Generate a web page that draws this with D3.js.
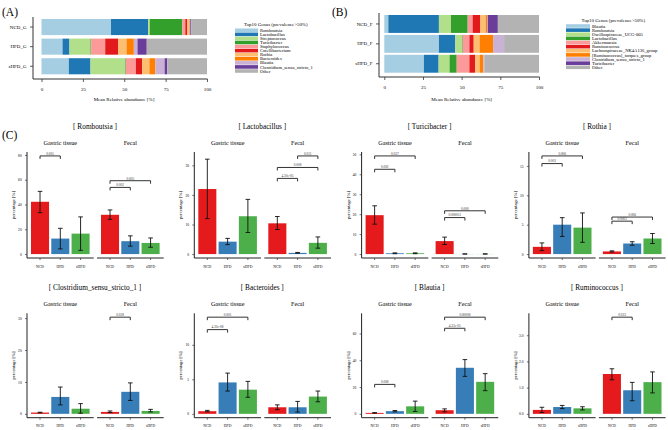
<!DOCTYPE html>
<html><head><meta charset="utf-8">
<script src="https://cdn.jsdelivr.net/npm/d3@7"></script>
<style>body{margin:0;background:#fff}svg{display:block;font-family:"Liberation Serif","Times New Roman",serif}</style>
</head><body><svg width="668" height="430"></svg>
<script>
// ---------- DATA ----------
const paired = ["#A6CEE3","#1F78B4","#B2DF8A","#33A02C","#FB9A99","#E31A1C","#FDBF6F","#FF7F00","#CAB2D6","#6A3D9A","#B3B3B3"];
const groupsA = ["NCD_G","HFD_G","sHFD_G"];
const genusA = ["Romboutsia","Lactobacillus","Streptococcus","Turicibacter","Staphylococcus","Catellibacterium","Rothia","Bacteroides","Blautia","Clostridium_sensu_stricto_1","Other"];
const ncdG  = [42.0,22.4,1.0,19.7,1.8,1.2,1.0,0.4,0.4,0.5,9.6];
const hfdG  = [12.7,4.2,12.7,0.4,8.5,7.9,5.0,4.4,2.2,5.6,36.4];
const shfdG = [16.5,13.1,20.9,0.4,6.1,3.8,4.4,3.6,5.6,1.6,24.0];

const groupsB = ["NCD_F","HFD_F","sHFD_F"];
const genusB = ["Blautia","Romboutsia","Oscillospiraceae_UCG-005","Lactobacillus","Akkermansia","Ruminococcus","Lachnospiraceae_NK4A136_group","[Ruminococcus]_torques_group","Clostridium_sensu_stricto_1","Turicibacter","Other"];
const ncdF  = [2.6,32.7,7.8,10.8,3.2,5.0,3.4,0.9,0.5,6.5,26.6];
const hfdF  = [35.3,10.6,4.4,0.4,4.3,2.8,3.8,8.7,7.1,0.05,22.55];
const shfdF = [25.6,9.5,7.1,4.6,8.2,3.8,2.8,2.4,0.6,0.05,35.35];

const groupsC = ["NCD","HFD","sHFD"];
const groupColors = ["#E41A1C","#377EB8","#4DAF4A"];
const facetsC = ["Gastric tissue","Fecal"];
const genusC = ["Romboutsia","Lactobacillus","Turicibacter","Rothia","Clostridium_sensu_stricto_1","Bacteroides","Blautia","Ruminococcus"];
const gastricMean = [[42.2,12.5,16.5],[22.0,4.2,12.8],[19.5,0.4,0.4],[1.23,5.0,4.5],[0.4,5.3,1.6],[0.38,4.55,3.5],[0.7,2.0,5.6],[0.15,0.26,0.21]];
const gastricLo   = [[33.4,4.2,3.0],[12.0,3.2,7.3],[15.0,0.2,0.2],[0.6,3.0,2.0],[0.3,2.8,0.2],[0.3,3.3,2.4],[0.5,1.5,1.8],[0.05,0.2,0.15]];
const gastricHi   = [[50.6,20.8,30.0],[32.1,5.3,18.5],[24.2,0.6,0.6],[1.9,6.2,7.0],[0.5,8.4,3.2],[0.5,5.9,4.7],[0.9,2.5,9.5],[0.25,0.32,0.27]];
const fecalMean   = [[31.7,10.4,9.0],[10.4,0.4,3.8],[6.5,0.05,0.05],[0.45,1.8,2.65],[0.6,6.9,0.9],[0.95,0.95,2.5],[2.7,34.4,23.9],[1.52,0.9,1.21]];
const fecalLo     = [[28.0,6.4,5.5],[8.3,0.3,2.0],[4.8,0.03,0.03],[0.35,1.5,1.8],[0.4,4.2,0.6],[0.6,0.25,1.75],[1.5,28.0,17.3],[1.3,0.5,0.8]];
const fecalHi     = [[35.6,14.7,13.0],[12.7,0.55,5.8],[8.5,0.08,0.08],[0.55,2.1,3.5],[0.9,9.7,1.4],[1.3,1.8,3.3],[3.7,40.5,30.0],[1.72,1.2,1.6]];
const yTicksC = [[0,20,40,60,80],[0,10,20,30],[0,10,20,30,40,50],[0,5,10,15],[0,10,20,30],[0,5,10],[0,20,40,60],[0,1,2,3]];
// significance brackets: genus index, facet index, from group, to group, height (data units), p label
const bracketGenus = [0,0,0, 1,1,1, 2,2,2,2, 3,3,3,3, 4, 5,5, 6,6,6, 7];
const bracketFacet = [0,1,1, 1,1,1, 0,0,1,1, 0,0,1,1, 1, 0,0, 0,1,1, 1];
const bracketFrom  = ["NCD","NCD","NCD", "NCD","NCD","HFD", "NCD","NCD","NCD","NCD", "NCD","NCD","NCD","NCD", "NCD", "NCD","NCD", "NCD","NCD","NCD", "NCD"];
const bracketTo    = ["HFD","HFD","sHFD", "HFD","sHFD","sHFD", "HFD","sHFD","HFD","sHFD", "HFD","sHFD","HFD","sHFD", "HFD", "HFD","sHFD", "HFD","HFD","sHFD", "HFD"];
const bracketY     = [79.2,53.8,59.2, 25.6,29.3,33.2, 42.5,49.2,18.3,21.7, 15.4,16.7,5.6,6.3, 30.3, 12.2,14.0, 22.0,63.9,72.2, 3.69];
const bracketP     = ["0.005","0.002","0.005", "4.30e-05","0.008","0.011", "0.002","0.037","0.000051","0.000", "0.003","0.006","0.0003","0.006", "0.028", "4.30e-08","0.001", "0.008","4.33e-05","0.00008", "0.023"];

// ---------- DRAW ----------
const svg = d3.select("svg");
svg.append("rect").attr("width",668).attr("height",430).attr("fill","#fff");

function stacked(cfg){
  const g = svg.append("g");
  const x = d3.scaleLinear().domain([0,100]).range(cfg.xr);
  const y = d3.scaleBand().domain(cfg.groups).range(cfg.yr).paddingInner(cfg.pad).paddingOuter(0);
  cfg.values.forEach((vals,gi)=>{
    let acc = 0;
    const segs = vals.map((v,k)=>{const s={k,x0:acc,x1:acc+v}; acc+=v; return s;});
    g.selectAll(null).data(segs).join("rect")
      .attr("x",d=>x(d.x0)).attr("width",d=>Math.max(0,x(d.x1)-x(d.x0)))
      .attr("y",y(cfg.groups[gi])).attr("height",y.bandwidth())
      .attr("fill",d=>paired[d.k]);
  });
  // axes
  const ax = g.append("g").attr("transform",`translate(${cfg.axX},0)`)
    .call(d3.axisLeft(y).tickSize(3).tickSizeOuter(0));
  ax.select(".domain").remove();
  ax.selectAll("text").attr("font-size",5).attr("font-family","Liberation Serif").attr("dx",-0.5);
  ax.selectAll("line").attr("stroke","#333").attr("stroke-width",0.8);
  g.append("line").attr("x1",cfg.axX).attr("x2",cfg.axX).attr("y1",cfg.axTop).attr("y2",cfg.axY).attr("stroke","#333").attr("stroke-width",1);
  const bx = g.append("g").attr("transform",`translate(0,${cfg.axY})`)
    .call(d3.axisBottom(x).tickValues([0,25,50,75,100]).tickSize(3).tickSizeOuter(0));
  bx.select(".domain").remove();
  bx.selectAll("text").attr("font-size",5).attr("font-family","Liberation Serif").attr("dy","1.1em");
  bx.selectAll("line").attr("stroke","#333").attr("stroke-width",0.8);
  g.append("line").attr("x1",cfg.axX).attr("x2",cfg.xr[1]+0.5).attr("y1",cfg.axY).attr("y2",cfg.axY).attr("stroke","#333").attr("stroke-width",1);
  g.append("text").attr("x",cfg.titleX).attr("y",cfg.titleY).attr("text-anchor","middle").attr("font-size",5).text("Mean Relative abundance [%]");
  // legend
  const lg = g.append("g");
  lg.append("text").attr("x",cfg.legTitleX).attr("y",cfg.legTitleY).attr("font-size",4.9).text("Top10 Genus (prevalence>50%)");
  cfg.genus.forEach((name,k)=>{
    const yy = cfg.legY0 + k*cfg.legStep;
    lg.append("rect").attr("x",cfg.legX).attr("y",yy-1.8).attr("width",cfg.legW).attr("height",3.6).attr("fill",paired[k]);
    lg.append("text").attr("x",cfg.legX+cfg.legW+2).attr("y",yy).attr("dy","0.35em").attr("font-size",4.6).text(name);
  });
  svg.append("text").attr("x",cfg.tagX).attr("y",cfg.tagY).attr("font-size",11.5).text(cfg.tag);
}

stacked({groups:groupsA, values:[ncdG,hfdG,shfdG], genus:genusA, xr:[41.5,207], yr:[19,74.3], pad:0.18,
  axX:33, axTop:17, axY:79, titleX:124, titleY:101, legTitleX:244, legTitleY:26, legX:235, legW:23, legY0:30.3, legStep:4.07,
  tag:"(A)", tagX:2, tagY:16});
stacked({groups:groupsB, values:[ncdF,hfdF,shfdF], genus:genusB, xr:[384.3,539], yr:[15,72.7], pad:0.1,
  axX:379, axTop:13, axY:77, titleX:461.7, titleY:101, legTitleX:581.5, legTitleY:22, legX:566, legW:24, legY0:26, legStep:4.13,
  tag:"(B)", tagX:332, tagY:16});

svg.append("text").attr("x",2).attr("y",139).attr("font-size",11.5).text("(C)");

genusC.forEach((name,i)=>{
  const c = i%4, r = Math.floor(i/4);
  const ax = 27 + c*167.3;
  const topY = r ? 313.3 : 152, botY = r ? 417.7 : 258;
  const g = svg.append("g");
  const bIdx = bracketGenus.map((gg,k)=>gg===i?k:-1).filter(k=>k>=0);
  const M = d3.max([...gastricHi[i],...fecalHi[i],...bIdx.map(k=>bracketY[k])]);
  const y = d3.scaleLinear().domain([-0.04*M,1.04*M]).range([botY,topY]);
  // title
  g.append("text").attr("x",ax+68).attr("y",r?287.5:126).attr("dy","0.35em").attr("text-anchor","middle").attr("font-size",7.3).text(`[ ${name} ]`);
  // y axis
  g.append("line").attr("x1",ax).attr("x2",ax).attr("y1",topY).attr("y2",botY).attr("stroke","#222").attr("stroke-width",1);
  const ya = g.append("g").attr("transform",`translate(${ax},0)`).call(d3.axisLeft(y).tickValues(yTicksC[i]).tickSize(2).tickSizeOuter(0));
  ya.select(".domain").remove();
  ya.selectAll("text").attr("font-size",3.6).attr("font-family","Liberation Serif").attr("dx",-0.3);
  ya.selectAll("line").attr("stroke","#333").attr("stroke-width",0.7);
  g.append("text").attr("transform",`translate(${ax-12},${(topY+botY)/2}) rotate(-90)`).attr("text-anchor","middle").attr("font-size",4.6).text("percentage [%]");
  const means=[gastricMean[i],fecalMean[i]], los=[gastricLo[i],fecalLo[i]], his=[gastricHi[i],fecalHi[i]];
  facetsC.forEach((fname,f)=>{
    const x0 = ax + f*70, w = 66.7;
    const x = d3.scaleBand().domain(groupsC).range([x0+4,x0+62.6]).paddingInner(0.11).paddingOuter(0);
    g.append("text").attr("x",x0+w/2).attr("y",r?303.5:143).attr("dy","0.35em").attr("text-anchor","middle").attr("font-size",6.2).text(fname);
    // bars
    g.selectAll(null).data(groupsC).join("rect")
      .attr("x",d=>x(d)).attr("width",x.bandwidth())
      .attr("y",(d,k)=>y(means[f][k])).attr("height",(d,k)=>Math.max(0,y(0)-y(means[f][k])))
      .attr("fill",(d,k)=>groupColors[k]);
    // error bars
    groupsC.forEach((gname,k)=>{
      const cx = x(gname)+x.bandwidth()/2;
      const eg = g.append("g").attr("stroke","#111").attr("stroke-width",0.9);
      eg.append("line").attr("x1",cx).attr("x2",cx).attr("y1",y(los[f][k])).attr("y2",y(his[f][k]));
      eg.append("line").attr("x1",cx-2.3).attr("x2",cx+2.3).attr("y1",y(los[f][k])).attr("y2",y(los[f][k]));
      eg.append("line").attr("x1",cx-2.3).attr("x2",cx+2.3).attr("y1",y(his[f][k])).attr("y2",y(his[f][k]));
    });
    // x axis
    g.append("line").attr("x1",x0).attr("x2",x0+w).attr("y1",botY).attr("y2",botY).attr("stroke","#222").attr("stroke-width",1);
    const xa = g.append("g").attr("transform",`translate(0,${botY})`).call(d3.axisBottom(x).tickSize(2).tickSizeOuter(0));
    xa.select(".domain").remove();
    xa.selectAll("text").attr("font-size",3.8).attr("font-family","Liberation Serif").attr("dy","1.2em");
    xa.selectAll("line").attr("stroke","#333").attr("stroke-width",0.7);
    // brackets
    bIdx.filter(k=>bracketFacet[k]===f).forEach(k=>{
      const xa1 = x(bracketFrom[k])+x.bandwidth()/2, xa2 = x(bracketTo[k])+x.bandwidth()/2, yy = y(bracketY[k]);
      g.append("path").attr("d",`M${xa1},${yy+3}V${yy}H${xa2}V${yy+3}`).attr("fill","none").attr("stroke","#333").attr("stroke-width",1);
      g.append("text").attr("x",(xa1+xa2)/2).attr("y",yy-1.2).attr("text-anchor","middle").attr("font-size",3.4).attr("fill","#333").text(bracketP[k]);
    });
  });
});
</script></body></html>
